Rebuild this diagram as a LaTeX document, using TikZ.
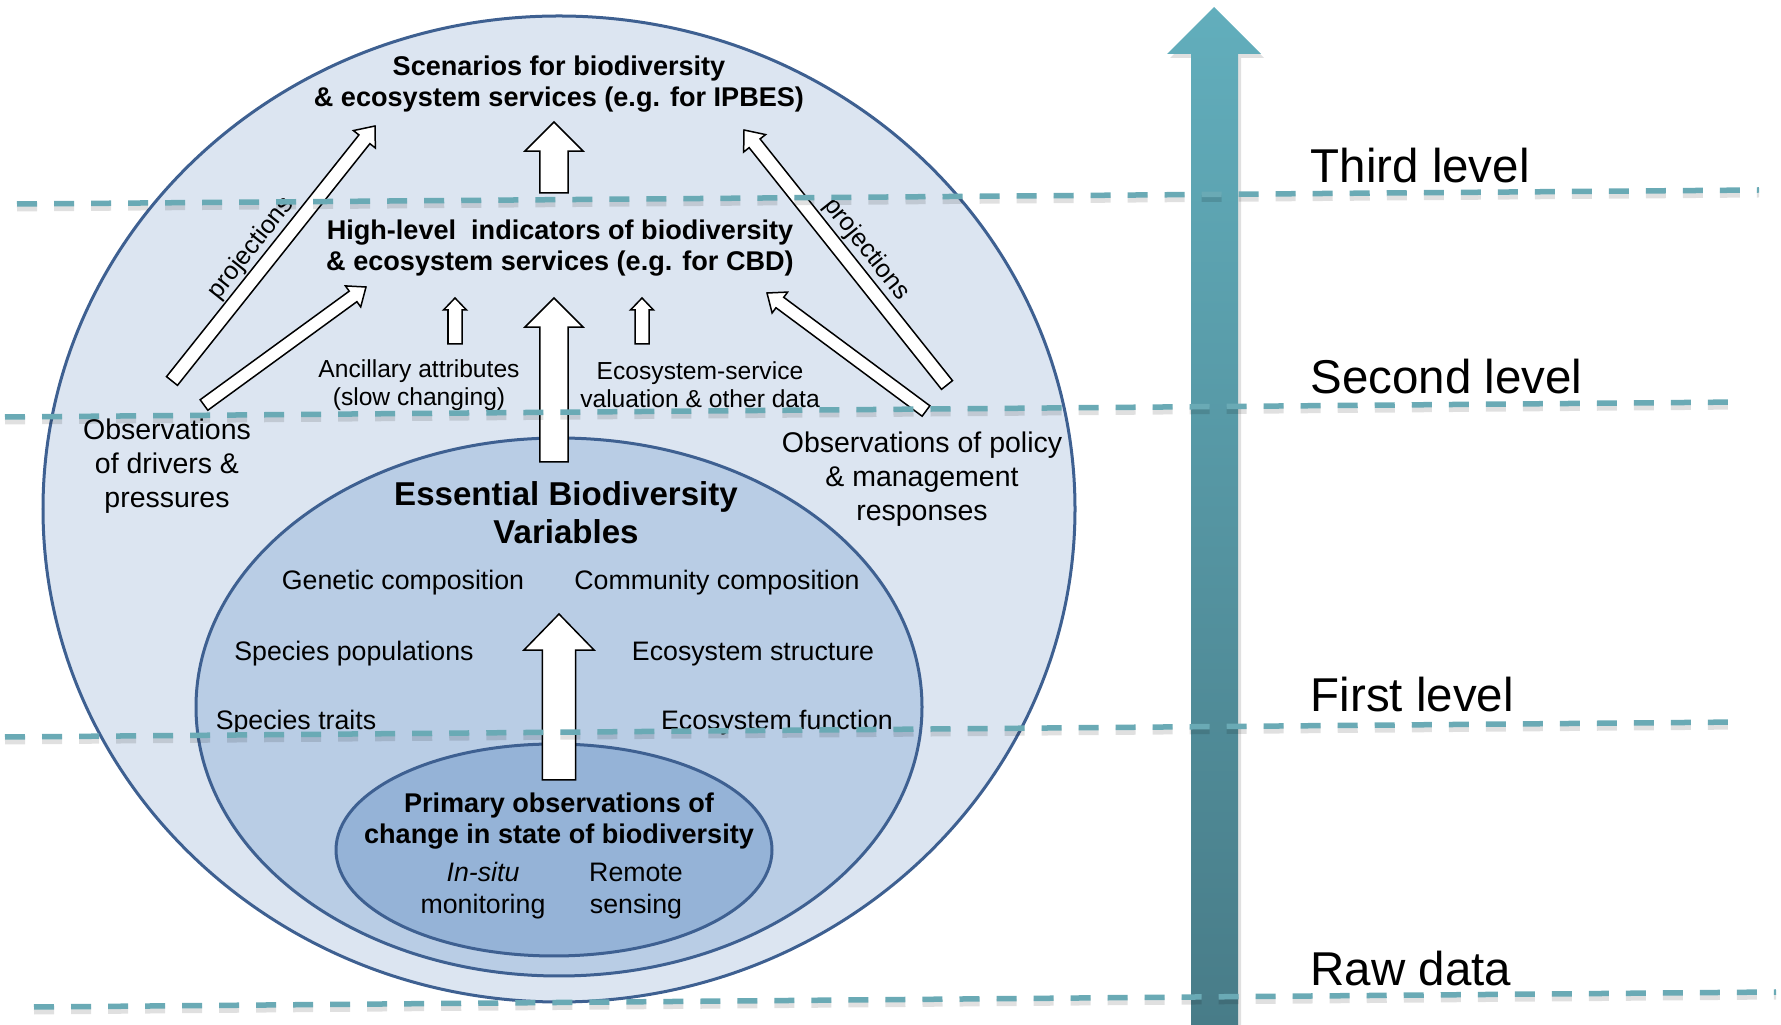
\documentclass[tikz,border=0pt]{standalone}
\usepackage{fontspec}
\setmainfont{Liberation Sans}
\usetikzlibrary{calc}

\definecolor{ringblue}{RGB}{62,96,145}
\definecolor{outerfill}{RGB}{220,229,241}
\definecolor{midfill}{RGB}{185,205,229}
\definecolor{innerfill}{RGB}{149,179,215}
\definecolor{dashteal}{RGB}{106,170,181}
\definecolor{upteal}{RGB}{98,174,188}
\definecolor{lowteal}{RGB}{72,124,136}

\tikzset{
  ring/.style={draw=ringblue, line width=0.3mm},
  txt/.style={inner sep=0pt, align=center},
  bigtitle/.style={txt, font=\bfseries\fontsize{7.7}{8.6}\selectfont},
  ebvtitle/.style={txt, font=\bfseries\fontsize{9.4}{10.8}\selectfont},
  obstxt/.style={txt, font=\fontsize{8.1}{9.7}\selectfont},
  itemtxt/.style={txt, font=\fontsize{7.6}{9.1}\selectfont},
  smalltxt/.style={txt, font=\fontsize{7.0}{8.0}\selectfont},
  projlbl/.style={inner sep=0pt, font=\fontsize{7.2}{8}\selectfont},
  lvllbl/.style={anchor=base west, inner sep=0pt, font=\fontsize{13.5}{16}\selectfont},
  blockarr/.style={draw=black, fill=white, line width=0.15mm, line join=miter},
  lvl/.style={draw=dashteal, line width=0.55mm, dash pattern=on 2mm off 1.7mm},
  lvlshade/.style={draw=black, opacity=0.12, line width=0.7mm, dash pattern=on 2mm off 1.7mm},
}

% tail, tip, shaft half width, head half width, head length
\newcommand{\blockarrow}[5]{%
  \coordinate (ba-base) at ($(#2)!#5!(#1)$);
  \draw[blockarr] ($(#1)!#3!-90:(#2)$) -- ($(ba-base)!#3!-90:(#2)$) -- ($(ba-base)!#4!-90:(#2)$)
    -- (#2) -- ($(ba-base)!#4!90:(#2)$) -- ($(ba-base)!#3!90:(#2)$) -- ($(#1)!#3!90:(#2)$) -- cycle;
}

\begin{document}
\begin{tikzpicture}[x=0.01cm, y=-0.01cm]
  \useasboundingbox (0,0) rectangle (1781,1025);

  % nested ellipses
  \draw[ring, fill=outerfill] (559,509) ellipse [x radius=516, y radius=493];
  \draw[ring, fill=midfill] (559,707) ellipse [x radius=363, y radius=269];
  \draw[ring, fill=innerfill] (554,850) ellipse [x radius=218, y radius=106];

  % rising arrow on the right
  \fill[black, opacity=0.12] (1194,1025) -- (1194,58) -- (1170,58) -- (1217,11) -- (1264,58)
    -- (1241,58) -- (1241,1025) -- cycle;
  \shade[top color=upteal, bottom color=lowteal] (1191,1025) -- (1191,54) -- (1167,54) -- (1214,7)
    -- (1261,54) -- (1238,54) -- (1238,1025) -- cycle;

  \node[bigtitle] (scen) at (559,84) {Scenarios for biodiversity\\\& ecosystem services (e.g. for IPBES)};
  \node[bigtitle] (hli) at (560,248) {High-level~ indicators of biodiversity\\\& ecosystem services (e.g. for CBD)};
  \node[smalltxt] (ancil) at (419,385) {Ancillary attributes\\(slow changing)};
  \node[smalltxt] (esval) at (700,385) {Ecosystem-service\\valuation \& other data};
  \node[obstxt] (drivers) at (167,466) {Observations\\of drivers \&\\pressures};
  \node[obstxt] (policy) at (922,479) {Observations of policy\\\& management\\responses};
  \node[ebvtitle] (ebv) at (566,513) {Essential Biodiversity\\Variables};
  \foreach \n/\x/\y/\t in {genetic/403/583/Genetic composition, community/717/583/Community composition,
      populations/354/654/Species populations, structure/753/654/Ecosystem structure,
      traits/296/723/Species traits, function/777/723/Ecosystem function}
    \node[itemtxt] (\n) at (\x,\y) {\t};
  \node[bigtitle] (primary) at (559,821) {Primary observations of\\change in state of biodiversity};
  \node[itemtxt] (insitu) at (483,891) {\textit{In-situ}\\monitoring};
  \node[itemtxt] (remote) at (636,891) {Remote\\sensing};

  % arrow ends
  \foreach \n/\x/\y in {drvprojtail/172/381, drvprojtip/375/126, drvhlitail/204/405, drvhlitip/366/287,
      polprojtail/947/385, polprojtip/744/130, polhlitail/926/411, polhlitip/767/293,
      ebvtail/554/462, ebvtip/554/298, hlitail/554/193, hlitip/554/122,
      anciltail/455/344, anciltip/455/298, esvaltail/642/344, esvaltip/642/298,
      primtail/559/780, primtip/559/614}
    \coordinate (\n) at (\x,\y);

  \blockarrow{drvprojtail}{drvprojtip}{0.7mm}{1.4mm}{1.7mm}
  \blockarrow{drvhlitail}{drvhlitip}{0.65mm}{1.3mm}{1.6mm}
  \blockarrow{polprojtail}{polprojtip}{0.7mm}{1.4mm}{1.7mm}
  \blockarrow{polhlitail}{polhlitip}{0.65mm}{1.3mm}{1.6mm}
  \blockarrow{ebvtail}{ebvtip}{1.4mm}{2.9mm}{2.9mm}
  \blockarrow{hlitail}{hlitip}{1.4mm}{2.9mm}{2.9mm}
  \blockarrow{anciltail}{anciltip}{0.7mm}{1.15mm}{1.2mm}
  \blockarrow{esvaltail}{esvaltip}{0.7mm}{1.15mm}{1.2mm}
  \blockarrow{primtail}{primtip}{1.65mm}{3.5mm}{3.6mm}

  \path (drvprojtail) -- (drvprojtip) node[projlbl, pos=0.47, sloped, above=0.8mm] (projleft) {projections};
  \path (polprojtip) -- (polprojtail) node[projlbl, pos=0.52, sloped, above=0.9mm] (projright) {projections};

  % level lines
  \foreach \xa/\ya/\xb/\yb in {17/204/1759/190, 5/417/1743/402, 5/737/1743/722, 34/1007/1776/992}{
    \draw[lvlshade] (\xa,{\ya+4}) -- (\xb,{\yb+4});
    \draw[lvl] (\xa,\ya) -- (\xb,\yb);
  }
  \foreach \n/\y/\t in {third/183/Third level, second/394/Second level, first/712/First level, raw/985/Raw data}
    \node[lvllbl] (\n) at (1310,\y) {\t};
\end{tikzpicture}
\end{document}
